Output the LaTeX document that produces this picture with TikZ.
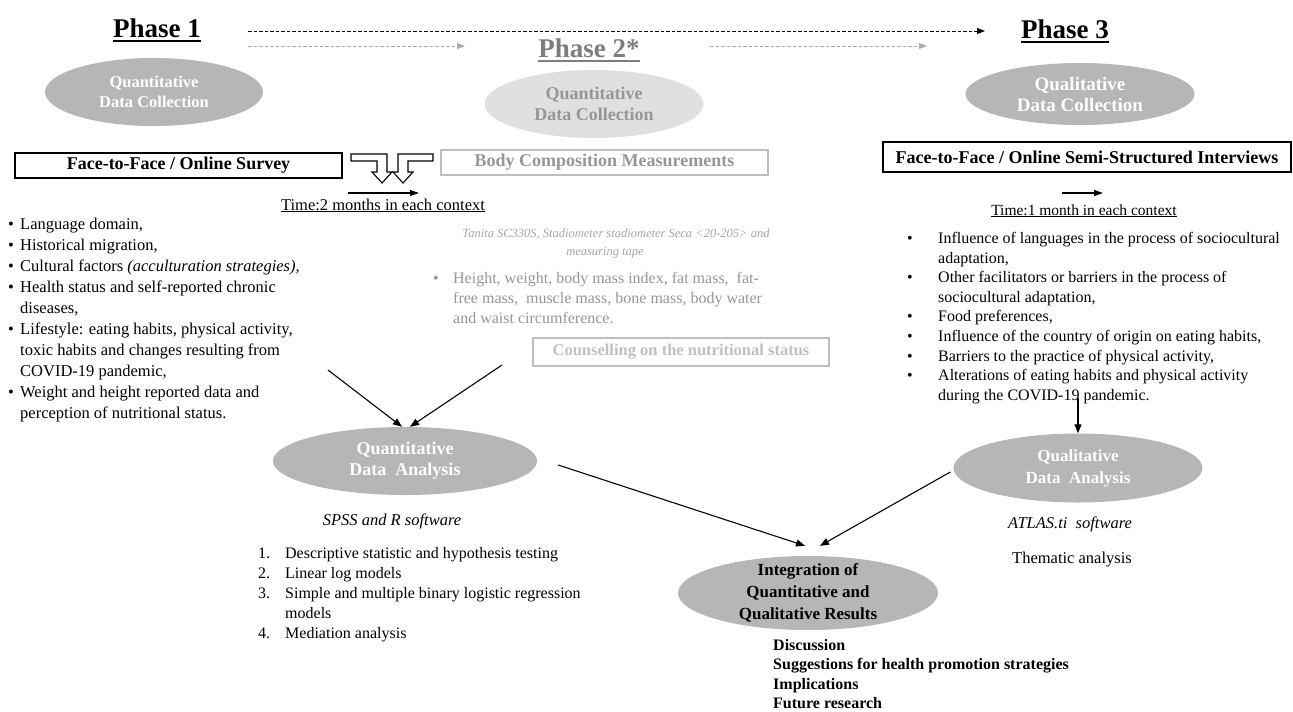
\documentclass[tikz,border=0pt]{standalone}
\usepackage{fontspec}
\setmainfont{Liberation Serif}
\usetikzlibrary{arrows.meta,shapes.geometric,calc}
\definecolor{ellgray}{RGB}{182,182,182}
\definecolor{ellgrayL}{RGB}{224,224,224}
\definecolor{ptwo}{RGB}{125,125,125}
\definecolor{gtext}{RGB}{150,150,150}
\definecolor{ltext}{RGB}{165,165,165}
\definecolor{lbord}{RGB}{190,190,190}
\definecolor{ctext}{RGB}{192,192,192}
\definecolor{dgray}{RGB}{170,170,170}
\newcommand{\fs}[2]{\fontsize{#1}{#2}\selectfont}
\newcommand{\myb}[1]{\makebox[#1][l]{\textbullet}}
\newcommand{\myi}[1]{\hspace*{#1}}
\begin{document}
\begin{tikzpicture}[x=1pt,y=-1pt,
  ellbase/.style={ellipse, inner sep=0pt},
  elltext/.style={inner sep=0pt, align=center, font=\bfseries},
  phase/.style={inner sep=0pt, anchor=base, font=\fs{27}{30}\bfseries},
  ulin/.style={line width=1.6pt},
  boxb/.style={draw, line width=1.1pt, inner sep=0pt, font=\fs{18}{20}\bfseries},
  listtext/.style={inner sep=0pt, anchor=north west, align=left},
  conn/.style={line width=1.1pt, -{Triangle[length=9pt,width=7pt]}},
  hollow/.style={draw=black, line width=1.1pt, fill=white, line join=miter},
  dline/.style={line width=0.9pt, dash pattern=on 3.5pt off 2pt}
]
\useasboundingbox (0,0) rectangle (1293,712);

% ---- phase titles
\node[phase] (ph1) at (157,37) {Phase 1};
\draw[ulin] ([yshift=-4pt]ph1.base west) -- ([yshift=-4pt]ph1.base east);
\node[phase, text=ptwo] (ph2) at (589,57) {Phase 2*};
\draw[ulin, ptwo] ([yshift=-4pt]ph2.base west) -- ([yshift=-4pt]ph2.base east);
\node[phase] (ph3) at (1065,38) {Phase 3};
\draw[ulin] ([yshift=-4pt]ph3.base west) -- ([yshift=-4pt]ph3.base east);

% ---- dashed timeline arrows
\coordinate (d1s) at (248,31);
\coordinate (d1e) at (985,31);
\draw[dline, -{Triangle[length=8pt,width=6pt]}] (d1s) -- (d1e);
\coordinate (d2s) at (248,46);
\coordinate (d2e) at (465,46);
\draw[dline, dgray, -{Triangle[length=8pt,width=6pt]}] (d2s) -- (d2e);
\coordinate (d3s) at (710,46);
\coordinate (d3e) at (927,46);
\draw[dline, dgray, -{Triangle[length=8pt,width=6pt]}] (d3s) -- (d3e);

% ---- data collection ellipses
\node[ellbase, fill=ellgray, minimum width=218pt, minimum height=68pt] (qdc1) at (154,92) {};
\node[elltext, text=white, font=\fs{16.5}{20}\bfseries] (qdc1t) at (qdc1) {Quantitative\\Data Collection};
\node[ellbase, fill=ellgrayL, minimum width=219pt, minimum height=68pt] (qdc2) at (594,104) {};
\node[elltext, text=gtext, font=\fs{18}{21}\bfseries] (qdc2t) at (qdc2) {Quantitative\\Data Collection};
\node[ellbase, fill=ellgray, minimum width=229pt, minimum height=62pt] (qdc3) at (1080,94) {};
\node[elltext, text=white, font=\fs{19}{21}\bfseries] (qdc3t) at (qdc3) {Qualitative\\Data Collection};

% ---- boxes
\node[boxb, minimum width=327pt, minimum height=25pt] (survey) at (178.5,165.5) {Face-to-Face / Online Survey};
\node[boxb, draw=lbord, text=gtext, minimum width=327pt, minimum height=25pt] (bodyc) at (604.5,162.5) {Body Composition Measurements};
\node[boxb, minimum width=408pt, minimum height=30pt] (interv) at (1087,157) {Face-to-Face / Online Semi-Structured Interviews};
\node[boxb, draw=lbord, text=ctext, font=\fs{16.5}{19}\bfseries, minimum width=296pt, minimum height=28pt] (couns) at (681,352) {Counselling on the nutritional status};

% ---- hollow bent arrows
\draw[hollow] (351,154) -- (387,154) -- (387,172) -- (392,172) -- (382,183) -- (372,172) -- (377,172) -- (377,161) -- (351,161) -- cycle;
\draw[hollow] (433,154) -- (398,154) -- (398,172) -- (393,172) -- (403,183) -- (413,172) -- (408,172) -- (408,161) -- (433,161) -- cycle;

% ---- time arrows and labels
\coordinate (t1s) at (348,193);
\coordinate (t1e) at (419,193);
\draw[line width=1.2pt, -{Triangle[length=9pt,width=6pt]}] (t1s) -- (t1e);
\node[inner sep=0pt, anchor=base, font=\fs{16.5}{20}] (time1) at (383,210) {\underline{Time:2 months in each context}};
\coordinate (t3s) at (1062,193);
\coordinate (t3e) at (1103,193);
\draw[line width=1.2pt, -{Triangle[length=9pt,width=6pt]}] (t3s) -- (t3e);
\node[inner sep=0pt, anchor=base, font=\fs{15.5}{18}] (time3) at (1084,215) {\underline{Time:1 month in each context}};

% ---- left list
\node[listtext, font=\fs{16.5}{21}] (leftlist) at (8,218) {%
\myb{12pt}Language domain,\\
\myb{12pt}Historical migration,\\
\myb{12pt}Cultural factors \textit{(acculturation strategies),}\\
\myb{12pt}Health status and self-reported chronic\\
\myi{12pt}diseases,\\
\myb{12pt}Lifestyle: eating habits, physical activity,\\
\myi{12pt}toxic habits and changes resulting from\\
\myi{12pt}COVID-19 pandemic,\\
\myb{12pt}Weight and height reported data and\\
\myi{12pt}perception of nutritional status.};

% ---- phase 2 texts
\node[inner sep=0pt, anchor=base, text=ltext, font=\fs{12.5}{15}\itshape] (tan1) at (616,237) {Tanita SC330S, Stadiometer stadiometer Seca <20-205> and};
\node[inner sep=0pt, anchor=base, text=ltext, font=\fs{12.5}{15}\itshape] (tan2) at (605,255) {measuring tape};
\node[listtext, text=gtext, font=\fs{16}{20}] (glist) at (433,272) {%
\myb{20pt}Height, weight, body mass index, fat mass,~~fat-\\
\myi{20pt}free mass,~~muscle mass, bone mass, body water\\
\myi{20pt}and waist circumference.};

% ---- right list
\node[listtext, font=\fs{16}{19.6}] (rightlist) at (907,232) {%
\myb{31pt}Influence of languages in the process of sociocultural\\
\myi{31pt}adaptation,\\
\myb{31pt}Other facilitators or barriers in the process of\\
\myi{31pt}sociocultural adaptation,\\
\myb{31pt}Food preferences,\\
\myb{31pt}Influence of the country of origin on eating habits,\\
\myb{31pt}Barriers to the practice of physical activity,\\
\myb{31pt}Alterations of eating habits and physical activity\\
\myi{31pt}during the COVID-19 pandemic.};

% ---- analysis ellipses
\node[ellbase, fill=ellgray, minimum width=264pt, minimum height=68pt] (qda) at (405,461) {};
\node[elltext, text=white, font=\fs{18}{21}\bfseries] (qdat) at (qda) {Quantitative\\Data~~Analysis};
\node[ellbase, fill=ellgray, minimum width=249pt, minimum height=69pt] (qlda) at (1078,468) {};
\node[elltext, text=white, font=\fs{17}{22}\bfseries] (qldat) at (qlda) {Qualitative\\Data~~Analysis};
\node[ellbase, fill=ellgray, minimum width=260pt, minimum height=74pt] (integ) at (808,593) {};
\node[elltext, text=black, font=\fs{17}{22}\bfseries] (integt) at (integ) {Integration of\\Quantitative and\\Qualitative Results};

% ---- software and lists
\node[inner sep=0pt, anchor=base, font=\fs{16.5}{20}\itshape] (spss) at (392,525) {SPSS and R software};
\node[listtext, font=\fs{16}{20}] (numlist) at (258,547) {%
\makebox[27pt][l]{1.}Descriptive statistic and hypothesis testing\\
\makebox[27pt][l]{2.}Linear log models\\
\makebox[27pt][l]{3.}Simple and multiple binary logistic regression\\
\myi{27pt}models\\
\makebox[27pt][l]{4.}Mediation analysis};
\node[inner sep=0pt, anchor=base, font=\fs{16.5}{20}\itshape] (atlas) at (1070,528) {ATLAS.ti~~software};
\node[inner sep=0pt, anchor=base, font=\fs{16.5}{20}] (thema) at (1072,563) {Thematic analysis};
\node[listtext, font=\fs{16}{19.5}\bfseries] (botlist) at (773,639) {%
Discussion\\
Suggestions for health promotion strategies\\
Implications\\
Future research};

% ---- connectors
\coordinate (in1) at (328,370);
\coordinate (in2) at (502,365);
\draw[conn] (in1) -- ($(qda.north)+(-3,0)$);
\draw[conn] (in2) -- ($(qda.north)+(5,0)$);
\draw[conn] ($(qda.east)+(21,4)$) -- ($(integ.north)+(-3,-10)$);
\draw[conn] ($(qlda.west)+(-3,4)$) -- ($(integ.north)+(12,-10)$);
\coordinate (pand) at (1078,398);
\draw[conn] (pand) -- (qlda.north);
\end{tikzpicture}
\end{document}
